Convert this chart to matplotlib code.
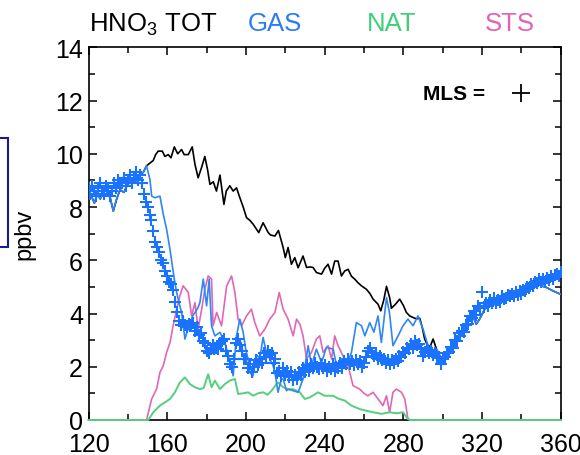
import matplotlib
matplotlib.use("Agg")
import matplotlib.pyplot as plt
from matplotlib.patches import Rectangle

plt.rcParams['font.family'] = ['Liberation Sans', 'DejaVu Sans']
plt.rcParams['mathtext.fontset'] = 'custom'
plt.rcParams['mathtext.rm'] = 'Liberation Sans'

# colours
c_tot = 'black'
c_gas = '#2f86f5'
c_mls = '#1a73ff'
c_nat = '#55cf7c'
c_sts = '#e266b6'

# HNO3 total (black), equal to gas before ~150 and after ~297
tot_x = [120, 121.5, 123, 124.5, 126, 127.5, 129, 131, 132.6, 134.3, 136, 138, 139.5,
         141.5, 143.5, 145.3, 147.8, 149.5, 151.2, 152.9, 154.1, 155.4, 157.5, 158.8,
         160.5, 161.9, 163.6, 165.3, 167.3, 168.6, 170.7, 172.7, 174.1, 175.7, 177.5,
         179.1, 180.5, 181.7, 183.4, 185, 186.8, 188.8, 190, 191.8, 193.5, 195.2, 196.9,
         198.6, 200.3, 202, 203.7, 205.4, 206.5, 208.7, 211.3, 212.5, 214.7, 216.5,
         218.9, 220, 221.4, 223.1, 224.8, 226.5, 229, 230.8, 232.5, 234.1, 235.8, 238.4,
         240, 241.7, 243.5, 245.1, 246.8, 248.5, 250.2, 251.9, 253.6, 255.3, 257, 258.7,
         261.2, 263, 264.6, 267.1, 268.5, 270, 271.4, 273, 273.9, 276, 278.1, 280, 281.5,
         283.2, 284.9, 286.6, 288.3, 289.5, 290.8, 292, 293.4, 295.1, 296.8, 299.3,
         301.8, 304.4, 306.9, 308.5, 310.3, 312.8, 315.3, 317, 318.7, 321.3, 323.8,
         325.5, 327.2, 329, 330.6, 334, 337.4, 340.7, 344.1, 347.5, 350, 352.6, 356, 360]
tot_y = [8.6, 8.4, 8.15, 8.5, 8.3, 8.75, 8.6, 8.35, 7.85, 8.3, 8.65, 8.55, 8.8,
         9.0, 8.9, 9.2, 9.3, 9.55, 9.65, 9.75, 9.97, 10.1, 10.1, 9.9,
         9.97, 9.85, 10.26, 10.0, 10.16, 9.97, 9.97, 10.26, 9.6, 9.1, 9.5,
         9.9, 9.4, 8.85, 8.95, 8.6, 9.2, 8.1, 8.6, 8.8, 8.6, 8.72, 8.35,
         8.0, 7.6, 7.5, 7.35, 7.16, 7.04, 7.41, 7.04, 6.95, 6.91, 7.12,
         6.48, 6.1, 6.48, 5.85, 6.1, 5.72, 6.16, 5.73, 5.75, 5.73, 5.54, 5.48,
         5.7, 5.85, 5.48, 5.97, 5.97, 5.41, 5.6, 5.66, 5.4, 5.29, 5.15, 5.04,
         4.91, 4.75, 4.54, 4.35, 4.1, 4.5, 5.02, 4.6, 4.2, 4.35, 4.54, 4.3, 4.04,
         3.91, 3.85, 3.8, 3.82, 3.5, 3.04, 2.85, 2.73, 3.04, 2.66, 2.29,
         2.48, 2.66, 3.04, 3.15, 3.29, 3.72, 3.91, 3.6, 3.79, 4.16, 4.35,
         4.3, 4.41, 4.5, 4.6, 4.72, 4.79, 4.85, 5.04, 5.16, 5.04, 4.98, 4.85, 4.72]

# gas phase HNO3 (blue line)
gas_x = [120, 121.5, 123, 124.5, 126, 127.5, 129, 131, 132.6, 134.3, 136, 138, 139.5,
         141.5, 143.5, 145.3, 147.8, 149.5, 151.2, 152.1, 153.8, 156.3, 158, 159.7,
         161.4, 162.6, 163.6, 164.8, 166, 167.3, 169, 170, 171.5, 172.8, 174.1, 175.5,
         176.6, 178.3, 180, 181.3, 182.5, 184.2, 186.8, 189.3, 191.8, 193.5, 195.2,
         196.9, 198.6, 200, 201.1, 202, 203.5, 205.4, 207, 208.7, 210.5, 211.3, 213.8,
         214.7, 216.3, 218, 218.9, 220.6, 221.4, 224, 226.5, 229, 231.6, 233.3, 235.8,
         238.4, 240.9, 244.3, 246, 248.5, 251.1, 253.6, 256.1, 258.7, 260.4, 262.9, 265,
         267.1, 268.8, 271.4, 272.9, 274.7, 277.3, 279.8, 282.3, 284.9, 287.4, 290,
         292.5, 294.2, 296.8, 299.3, 301.8, 304.4, 306.9, 308.5, 310.3, 312.8, 315.3,
         317, 318.7, 321.3, 323.8, 325.5, 327.2, 329, 330.6, 334, 337.4, 340.7, 344.1,
         347.5, 350, 352.6, 356, 360]
gas_y = [8.6, 8.4, 8.15, 8.5, 8.3, 8.75, 8.6, 8.35, 7.85, 8.3, 8.65, 8.55, 8.8,
         9.0, 8.9, 9.2, 9.3, 9.55, 9.04, 8.41, 8.35, 8.41, 7.72, 7.16,
         6.41, 5.79, 5.29, 4.79, 4.4, 4.04, 3.04, 3.3, 3.54, 3.9, 4.04, 4.2,
         4.41, 5.29, 4.29, 5.29, 3.54, 3.16, 3.29, 2.91, 2.16, 1.66, 3.16,
         3.79, 3.29, 2.6, 2.29, 1.79, 1.65, 2.45, 2.3, 3.1, 2.5, 2.41, 2.04,
         1.79, 1.04, 1.54, 1.54, 1.1, 1.16, 1.1, 1.04, 1.54, 2.79, 2.04, 2.66,
         2.16, 2.73, 2.66, 2.04, 2.3, 2.04, 2.54, 3.66, 3.54, 3.16, 3.66, 3.3,
         3.91, 2.91, 4.6, 4.04, 2.79, 3.16, 3.54, 3.79, 3.54, 3.91, 3.41,
         2.79, 2.54, 2.66, 2.29, 2.48, 2.66, 3.04, 3.15, 3.29, 3.72, 3.91,
         3.6, 3.79, 4.16, 4.35, 4.3, 4.41, 4.5, 4.6, 4.72, 4.79, 4.85, 5.04,
         5.16, 5.04, 4.98, 4.85, 4.72]

# NAT (green)
nat_x = [120, 150.4, 152.9, 156.3, 158.8, 161.4, 163.9, 166.4, 169, 171.5, 174.1, 176.6,
         178.5, 180.8, 182.5, 184.2, 186.8, 189.3, 191.8, 194.4, 196, 198.5, 201.1, 203.7,
         206, 208.7, 211, 213, 215.5, 216.3, 218.9, 221.4, 224, 227.4, 229.9, 232.5,
         236.6, 240, 244.3, 247, 250.2, 253.6, 257.8, 261, 264.6, 268.8, 273, 276.5,
         279.8, 282.3, 283.5, 360]
nat_y = [0, 0, 0.29, 0.54, 0.66, 0.79, 1.04, 1.41, 1.6, 1.35, 1.23, 1.16,
         1.2, 1.72, 1.23, 1.48, 1.16, 1.35, 1.48, 1.54, 0.98, 1.0, 1.04, 0.91,
         1.0, 1.04, 0.95, 1.1, 1.35, 1.41, 1.23, 1.15, 1.16, 1.04, 0.79, 0.85,
         1.04, 0.91, 0.91, 0.8, 0.73, 0.54, 0.41, 0.35, 0.29, 0.23, 0.29, 0.25,
         0.29, 0.04, 0, 0]

# STS (pink)
sts_x = [120, 149.5, 152.1, 154.6, 156.3, 158, 159.7, 161.4, 163, 164.8, 166.4, 168.1,
         170.7, 172.4, 174.1, 175.7, 177.5, 179.1, 180.8, 182.5, 183.3, 185.1, 187.6,
         190.2, 192.7, 194.4, 196, 197.8, 200.3, 202.8, 204.5, 207, 209.6, 212.1, 214.7,
         216.9, 218.9, 221.4, 224, 225.7, 227.4, 229, 230.8, 233.3, 235.8, 237.5, 239.2,
         241.7, 243.5, 245.1, 246.8, 249.3, 251.9, 254.4, 257.8, 260, 262, 264.6, 267.1,
         269.6, 271.4, 273, 274.7, 276.4, 279, 280.7, 282.3, 283.5, 360]
sts_y = [0, 0, 0.79, 1.16, 1.79, 2.04, 2.54, 2.91, 3.54, 4.16, 4.66, 5.04,
         4.79, 3.91, 4.41, 3.41, 4.16, 4.91, 5.41, 5.29, 3.54, 4.04, 3.54,
         5.04, 5.41, 4.79, 3.79, 3.54, 3.91, 4.16, 3.66, 3.16, 3.41, 3.79, 4.04,
         4.79, 4.16, 3.79, 3.16, 3.79, 3.6, 3.16, 2.29, 2.54, 3.04, 3.16, 2.54,
         2.79, 2.29, 3.16, 2.79, 2.41, 2.04, 1.29, 1.16, 1.0, 0.91, 1.04, 0.79,
         0.54, 0.91, 0.29, 1.04, 1.16, 1.04, 0.79, 0.04, 0, 0]

# MLS observations (blue crosses), daily from day 120 to 360
mls_x = list(range(120, 361))
mls_y = [8.7, 8.5, 8.8, 8.6, 8.4, 8.7, 8.9, 8.6, 8.5, 8.8,
         8.7, 8.4, 8.6, 8.9, 8.7, 9.0, 8.8, 8.9, 9.1, 8.8,
         9.0, 9.2, 8.9, 9.1, 9.3, 9.0, 9.2, 8.9, 8.5, 8.2,
         8.0, 7.7, 7.5, 7.1, 6.7, 6.5, 6.3, 6.0, 5.9, 5.6,
         5.4, 5.2, 5.1, 4.9, 4.45, 4.05, 3.7, 3.55, 3.7, 3.55,
         3.5, 3.6, 3.55, 3.65, 3.35, 3.5, 3.2, 3.25, 2.95, 2.9,
         2.6, 2.5, 2.65, 2.8, 2.65, 2.7, 2.65, 2.9, 2.95, 3.05,
         2.6, 2.4, 2.1, 2.0, 2.3, 2.9, 3.05, 2.8, 2.6, 2.3,
         2.3, 1.95, 2.1, 1.8, 2.0, 2.25, 2.05, 2.3, 2.15, 2.5,
         2.35, 2.6, 2.45, 2.5, 2.15, 2.3, 1.75, 1.85, 1.65, 1.95,
         1.7, 1.85, 1.6, 1.8, 1.5, 1.7, 1.55, 1.8, 1.7, 1.95,
         1.8, 2.05, 1.85, 2.1, 1.95, 2.15, 2.0, 1.9, 2.1, 1.95,
         2.05, 1.85, 2.0, 1.9, 2.1, 1.85, 2.0, 1.95, 2.15, 1.95,
         2.2, 2.1, 2.3, 2.1, 2.2, 2.05, 2.25, 2.1, 2.2, 2.0,
         2.15, 2.35, 2.6, 2.7, 2.5, 2.4, 2.5, 2.3, 2.4, 2.25,
         2.3, 2.15, 2.25, 2.1, 2.25, 2.15, 2.3, 2.2, 2.4, 2.35,
         2.55, 2.5, 2.7, 2.65, 2.85, 2.7, 2.95, 2.8, 2.85, 2.65,
         2.4, 2.55, 2.7, 2.5, 2.6, 2.45, 2.5, 2.35, 2.35, 2.1,
         2.3, 2.35, 2.5, 2.55, 2.75, 2.7, 3.0, 2.95, 3.25, 3.15,
         3.35, 3.3, 3.55, 3.6, 3.9, 3.85, 4.1, 3.95, 4.3, 4.2,
         4.8, 4.25, 4.4, 4.3, 4.5, 4.4, 4.6, 4.4, 4.5, 4.45,
         4.65, 4.55, 4.6, 4.7, 4.65, 4.75, 4.65, 4.8, 4.7, 4.85,
         4.75, 4.9, 4.85, 5.0, 4.95, 5.1, 5.05, 5.2, 5.15, 5.3,
         5.2, 5.3, 5.2, 5.35, 5.25, 5.4, 5.3, 5.45, 5.5, 5.4,
         5.55]

fig = plt.figure(figsize=(5.8, 4.56), dpi=100)
ax = fig.add_axes([0.1526, 0.0768, 0.8144, 0.8172])

ax.plot(tot_x, tot_y, color=c_tot, linewidth=1.2, zorder=3)
ax.plot(sts_x, sts_y, color=c_sts, linewidth=1.2, zorder=4, clip_on=False)
ax.plot(nat_x, nat_y, color=c_nat, linewidth=1.4, zorder=5, clip_on=False)
ax.plot(gas_x, gas_y, color=c_gas, linewidth=1.2, zorder=6)
ax.plot(mls_x, mls_y, linestyle='none', marker='+', color=c_mls,
        markersize=8.5, markeredgewidth=1.5, zorder=7)

ax.set_xlim(120, 360)
ax.set_ylim(0, 14)
ax.set_xticks(range(120, 361, 40))
ax.set_xticks(range(140, 360, 40), minor=True)
ax.set_yticks(range(0, 15, 2))
ax.set_yticks(range(1, 14, 2), minor=True)
ax.tick_params(which='both', direction='in', top=True, right=True, width=1.1,
               labelsize=18, colors='black')
ax.tick_params(which='major', length=6)
ax.tick_params(which='minor', length=4)
ax.tick_params(axis='x', pad=9)
ax.tick_params(axis='y', pad=4)
for s in ax.spines.values():
    s.set_linewidth(1.2)

ax.set_ylabel('ppbv', fontsize=17, labelpad=14)

# header labels
fig.text(0.153, 0.932, r'HNO$_{\mathrm{3}}$ TOT', fontsize=18.5, color='black', va='baseline')
fig.text(0.427, 0.932, 'GAS', fontsize=18.5, color='#2a7bf5', va='baseline')
fig.text(0.633, 0.932, 'NAT', fontsize=18.5, color='#3fcf78', va='baseline')
fig.text(0.836, 0.932, 'STS', fontsize=18.5, color='#e262b4', va='baseline')

# MLS key
ax.text(0.708, 0.875, 'MLS =', transform=ax.transAxes, fontsize=15,
        fontweight='bold', va='center', ha='left')
ax.plot([0.915], [0.877], transform=ax.transAxes, marker='+', color='black',
        markersize=13, markeredgewidth=1.3, clip_on=False)

# partial box at left edge
fig.patches.append(Rectangle((-0.05, 1 - 248 / 456), 0.063, 109 / 456,
                             transform=fig.transFigure, fill=False,
                             edgecolor='#1b1b8a', linewidth=1.5))

fig.savefig('out.png', dpi=100)
